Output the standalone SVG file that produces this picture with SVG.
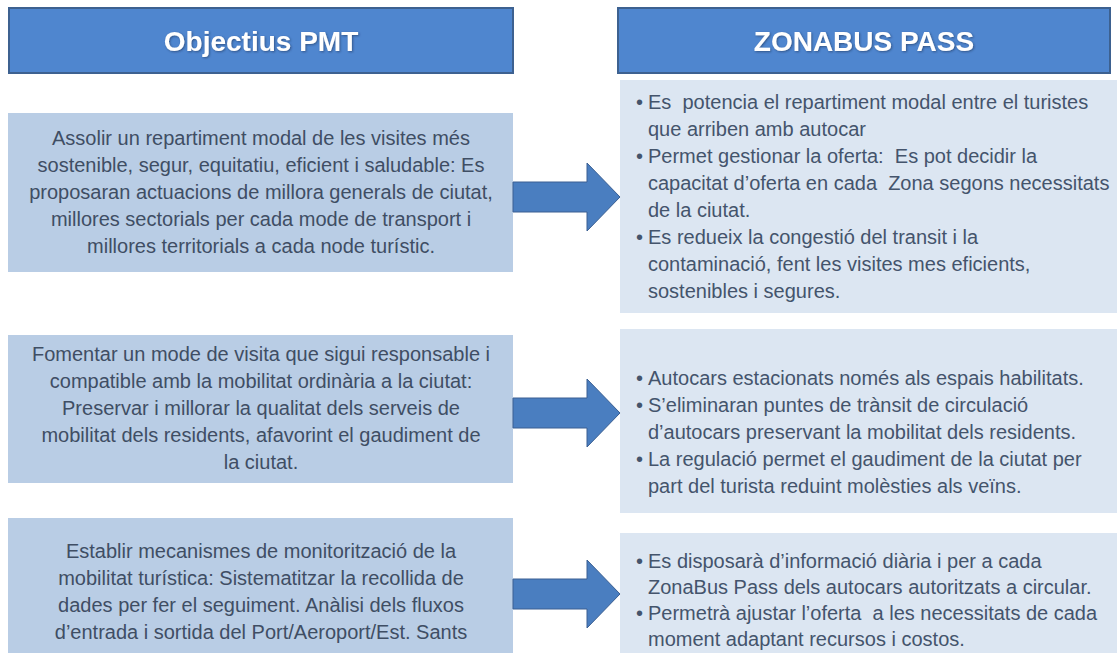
<svg xmlns="http://www.w3.org/2000/svg" width="1117" height="653" viewBox="0 0 1117 653">
<defs>
<style>
.hdr{fill:#4f86cf;stroke:#3d6190;stroke-width:2}
.hdrt{font-family:"Liberation Sans",Arial,sans-serif;font-weight:bold;font-size:28px;fill:#ffffff;text-anchor:middle}
.lbox{fill:#b9cde5}
.rbox{fill:#dce6f2}
.lt{font-family:"Liberation Sans",Arial,sans-serif;font-size:20px;fill:#3f4e64;text-anchor:middle}
.rt{font-family:"Liberation Sans",Arial,sans-serif;font-size:20px;fill:#44546c;white-space:pre}
.arrow{fill:#4a7ec0;stroke:#3a5f92;stroke-width:1}
</style>
<filter id="sh" x="-5%" y="-20%" width="110%" height="140%">
<feDropShadow dx="1" dy="1" stdDeviation="0.8" flood-color="#1f3558" flood-opacity="0.6"/>
</filter>
</defs>
<rect width="1117" height="653" fill="#ffffff"/>

<g id="header-left">
<rect class="hdr" x="9" y="8" width="504" height="65"/>
<text class="hdrt" x="261" y="51" filter="url(#sh)">Objectius PMT</text>
</g>
<g id="header-right">
<rect class="hdr" x="618" y="8" width="492" height="65"/>
<text class="hdrt" x="864" y="51" filter="url(#sh)">ZONABUS PASS</text>
</g>

<g id="obj1">
<rect class="lbox" x="8" y="113" width="505" height="159"/>
<text class="lt" x="261" y="145">Assolir un repartiment modal de les visites més</text>
<text class="lt" x="261" y="172">sostenible, segur, equitatiu, eficient i saludable: Es</text>
<text class="lt" x="261" y="199">proposaran actuacions de millora generals de ciutat,</text>
<text class="lt" x="261" y="226">millores sectorials per cada mode de transport i</text>
<text class="lt" x="261" y="253">millores territorials a cada node turístic.</text>
</g>
<g id="obj2">
<rect class="lbox" x="8" y="335" width="505" height="148"/>
<text class="lt" x="261" y="361">Fomentar un mode de visita que sigui responsable i</text>
<text class="lt" x="261" y="388">compatible amb la mobilitat ordinària a la ciutat:</text>
<text class="lt" x="261" y="415">Preservar i millorar la qualitat dels serveis de</text>
<text class="lt" x="261" y="442">mobilitat dels residents, afavorint el gaudiment de</text>
<text class="lt" x="261" y="469">la ciutat.</text>
</g>
<g id="obj3">
<rect class="lbox" x="8" y="518" width="505" height="135"/>
<text class="lt" x="261" y="558">Establir mecanismes de monitorització de la</text>
<text class="lt" x="261" y="585">mobilitat turística: Sistematitzar la recollida de</text>
<text class="lt" x="261" y="612">dades per fer el seguiment. Anàlisi dels fluxos</text>
<text class="lt" x="261" y="639">d’entrada i sortida del Port/Aeroport/Est. Sants</text>
</g>

<g id="zb1">
<rect class="rbox" x="620" y="80" width="497" height="233"/>
<text class="rt" x="636" y="109">•</text>
<text class="rt" x="648" y="109">Es  potencia el repartiment modal entre el turistes</text>
<text class="rt" x="648" y="136">que arriben amb autocar</text>
<text class="rt" x="636" y="163">•</text>
<text class="rt" x="648" y="163">Permet gestionar la oferta:  Es pot decidir la</text>
<text class="rt" x="648" y="190">capacitat d’oferta en cada  Zona segons necessitats</text>
<text class="rt" x="648" y="217">de la ciutat.</text>
<text class="rt" x="636" y="244">•</text>
<text class="rt" x="648" y="244">Es redueix la congestió del transit i la</text>
<text class="rt" x="648" y="271">contaminació, fent les visites mes eficients,</text>
<text class="rt" x="648" y="298">sostenibles i segures.</text>
</g>
<g id="zb2">
<rect class="rbox" x="620" y="329" width="497" height="184"/>
<text class="rt" x="636" y="385">•</text>
<text class="rt" x="648" y="385">Autocars estacionats només als espais habilitats.</text>
<text class="rt" x="636" y="412">•</text>
<text class="rt" x="648" y="412">S’eliminaran puntes de trànsit de circulació</text>
<text class="rt" x="648" y="439">d’autocars preservant la mobilitat dels residents.</text>
<text class="rt" x="636" y="466">•</text>
<text class="rt" x="648" y="466">La regulació permet el gaudiment de la ciutat per</text>
<text class="rt" x="648" y="493">part del turista reduint molèsties als veïns.</text>
</g>
<g id="zb3">
<rect class="rbox" x="620" y="533" width="497" height="120"/>
<text class="rt" x="636" y="568">•</text>
<text class="rt" x="648" y="568">Es disposarà d’informació diària i per a cada</text>
<text class="rt" x="648" y="594">ZonaBus Pass dels autocars autoritzats a circular.</text>
<text class="rt" x="636" y="620">•</text>
<text class="rt" x="648" y="620">Permetrà ajustar l’oferta  a les necessitats de cada</text>
<text class="rt" x="648" y="646">moment adaptant recursos i costos.</text>
</g>

<g id="connectors">
<polygon class="arrow" points="513,182 587,182 587,163 620,197 587,231 587,212 513,212"/>
<polygon class="arrow" points="513,398 587,398 587,379 620,413 587,447 587,428 513,428"/>
<polygon class="arrow" points="513,579 587,579 587,560 620,594 587,628 587,609 513,609"/>
</g>
</svg>
